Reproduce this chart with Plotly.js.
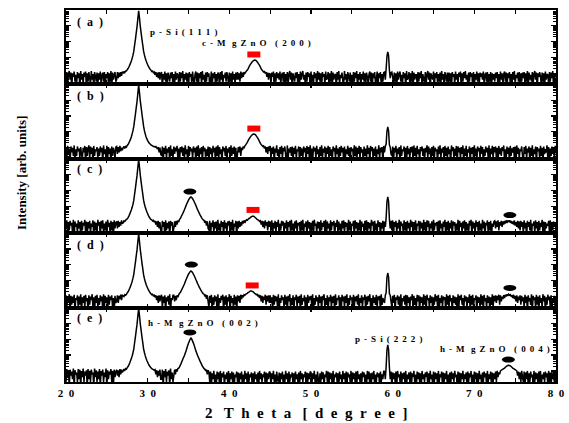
<!DOCTYPE html>
<html><head><meta charset="utf-8">
<script src="https://cdn.plot.ly/plotly-3.0.1.min.js"></script>
<style>html,body{margin:0;padding:0;background:#fff}#chart{width:569px;height:423px}</style>
</head><body><div id="chart"></div>
<script>
// sampling of the scans: 20.0, 20.1, ... 80.0 (degrees 2-theta)
const xStart = 20.0;
const xStep = 0.1;

// panel (a)
const intensityA = [
 3,12,2,9,14,4,11,1,10,6, 13,3,8,2,12,5,10,1,14,4, 9,2,11,6,13,1,10,3,12,5, 2,14,4,9,1,12,7,3,11,2, 10,4,13,2,8,11,3,12,1,9, 5,12,2,10,3,14,1,11,4,8, 12,3,
 4,12,5,11,6,12,7,13, 10,13,11,14,14,17,20,25,33,44, 60,88,140,240,600,1400,3600,9000,30000, 90000, 30000,9000,3600,1400,600,250,145,92,64, 46,35,27,22,18,16,13,14,11,12, 8,12,6,11,5,12,4,10,
 12,1,9,4,13,3,10,2,11,6, 3,11,5,12,1,9,2,13,4,10, 8,2,12,3,11,5,14,1,9,4, 11,3,10,1,12,6,9,2,13,4, 2,9,13,3,11,1,10,5,12,2, 14,4,8,2,11,3,12,6,10,1, 4,13,1,10,5,12,2,9,3,11, 9,1,12,4,14,2,8,5,11,3, 12,6,2,11,3,10,1,13,4,9, 2,11,4,
 12,4,10,3,13,5,11,6, 12,10,12,14, 16,19,25,32,38,45,53,60,66, 69, 67,62,54,46,38,32,25,19,16, 14,12,13,10,12,6,11,4,10,
 9,2,11,6,13,1,10,3,12,5, 10,4,13,2,8,11,3,12,1,9, 3,12,2,9,14,4,11,1,10,6, 3,11,5,12,1,9,2,13,4,10, 14,4,8,2,11,3,12,6,10,1, 13,3,8,2,12,5,10,1,14,4, 11,3,10,1,12,6,9,2,13,4, 5,12,2,10,3,14,1,11,4,8, 9,1,12,4,14,2,8,5,11,3, 2,14,4,9,1,12,7,3,11,2, 8,2,12,3,11,5,14,1,9,4, 12,1,9,4,13,3,10,2,11,6, 2,9,13,3,11,1,10,5,12,2, 4,13,1,10,5,12,2,9,3,11,
 12,4,18,120,224,130,16,5,11,
 12,6,2,11,3,10,1,13,4,9, 13,3,8,2,12,5,10,1,14,4, 5,12,2,10,3,14,1,11,4,8, 8,2,12,3,11,5,14,1,9,4, 3,12,2,9,14,4,11,1,10,6, 4,13,1,10,5,12,2,9,3,11, 2,14,4,9,1,12,7,3,11,2, 11,3,10,1,12,6,9,2,13,4, 9,2,11,6,13,1,10,3,12,5, 14,4,8,2,11,3,12,6,10,1, 12,1,9,4,13,3,10,2,11,6, 10,4,13,2,8,11,3,12,1,9, 3,12,1,10,4,9,
 3,11,5,12,1,9,2,13,4,10, 2,9,13,3,11,1,10,5,12,2, 9,1,12,4,14,2,8,5,11,3, 12,2,10,3,11,
 5,12,2,10,3,14,1,11,4,8, 3,12,2,9,14,4,11,1,10,6, 12,6,2,11,3,10,1,13,4,9, 8,2,12,3,11,5,14,1,9,4, 3
];
// panel (b)
const intensityB = [
 11,2,13,4,9,1,12,5,10,3, 14,1,8,3,12,6,9,2,11,4, 2,10,5,13,1,11,3,9,14,2, 12,4,10,1,13,3,8,6,11,2, 9,3,12,5,10,1,14,4,8,2, 13,2,11,4,9,1,12,3,10,6, 2,11,
 12,4,11,5,13,6,10,7, 10,12,9,13,11,14,16,20,26,35, 48,75,120,220,550,1300,3400,8600,28000, 90000, 29000,8800,3500,1350,560,230,120,75,50, 36,28,23,19,17,15,14,13,12,12, 11,12,10,8,11,5,10,4,
 3,12,1,10,4,13,2,9,5,11, 1,14,3,8,2,12,4,10,6,13, 2,9,1,11,5,12,3,10,2,14, 4,8,1,13,3,11,6,9,2,12, 5,10,1,12,3,14,2,9,4,11, 1,13,6,10,2,8,3,12,1,11, 4,9,2,13,5,10,1,12,3,14, 2,11,4,8,1,12,6,10,3,13, 1,9,5,11,2,14,3,10,4,12, 2,10,1,
 4,11,5,12,3,10,7, 11,10,13,15, 18,22,28,35,42,50,58,66,72, 74, 72,65,56,47,39,31,24,19,16, 14,12,13,9,12,5,11,4,12,6,
 13,2,10,4,12,1,9,5,14,3, 8,1,11,4,13,2,10,6,12,3, 1,14,2,9,5,11,3,12,1,10, 4,13,2,8,6,12,1,11,3,9, 2,12,5,10,1,13,4,11,2,14, 3,9,1,12,6,10,2,13,4,8, 1,11,3,14,2,9,5,12,1,10, 4,13,2,11,3,8,1,12,6,10, 2,14,4,9,1,11,3,13,5,10, 1,12,2,8,4,13,3,10,1,11, 6,9,2,14,3,12,1,10,4,13, 2,11,5,8,1,12,3,9,2,14, 4,10,1,13,6,11,2,9,3,12, 1,8,4,14,2,10,5,11,1,13,
 5,12,17,110,204,115,15,11,4,
 3,12,1,10,5,13,2,9,4,11, 1,14,3,8,6,12,2,10,1,13, 4,9,2,11,5,12,1,14,3,10, 2,13,4,8,1,11,6,12,3,9, 1,10,5,14,2,12,4,9,1,11, 3,13,2,10,6,8,1,12,4,14, 2,9,5,11,1,13,3,10,2,12, 4,8,1,14,6,11,2,9,3,13, 1,12,5,10,2,11,4,14,1,9, 3,13,2,8,5,12,1,10,4,11, 2,14,3,9,1,12,6,10,2,13, 4,11,1,8,3,12,5,10,2,14, 1,9,4,13,2,11,
 5,12,2,10,1,13,4,9,3,11, 6,14,1,8,2,12,4,10,1,13, 3,9,5,11,2,12,1,14,4,10, 2,8,6,12,3,
 1,11,4,13,2,9,5,12,1,10, 3,14,2,8,4,12,1,11,6,9, 2,13,3,10,1,12,4,8,5,14, 2,11,1,9,3,12,4,10,2,13, 5
];
// panel (c)
const intensityC = [
 4,13,1,10,3,12,6,9,2,14, 1,11,5,8,2,13,4,10,1,12, 3,9,6,14,2,11,1,10,4,12, 2,8,5,13,1,11,3,9,2,14, 6,10,1,12,4,13,2,8,3,11, 1,14,5,9,2,12,3,10,1,13, 4,9,
 11,4,12,5,10,6,13,8, 9,12,11,13,15,16,19,24,32,43, 58,86,135,235,590,1400,3600,8900,30000, 90000, 30000,8900,3500,1380,590,245,140,90,62, 45,34,26,21,17,15,14,12,13,10, 12,7,11,5,12,4,10,3,
 2,12,5,10,1,13,3,9,4,11,1,12,6,10,2,
 4,11,5,12,7,13,10,15,17,22,28,35,46,60,82,110,148,190,245,300,355, 390, 360,305,250,195,150,115,85,64,49,38,30,24,19,16,14,13,9,12,6,11,4,
 3,12,1,9,5,13,2,10,4,11, 1,14,3,8,2,12,5,10,1,13, 4,9,2,11,6,12,1,10,3,14, 2,8,5,12,1,
 11,4,12,5,10,6,12,8,13,9, 12,14,13,15,17,18,20,22,23, 24, 23,21,19,17,15,14,13,11,12, 7,12,5,11,4,13,6,10,3,12,5,
 11,3,13,1,9,4,12,2,10,5, 14,1,8,3,12,6,11,2,9,4, 13,1,10,5,12,2,14,3,8,1, 11,4,13,2,9,6,10,1,12,3, 14,2,8,5,11,1,13,4,10,2, 9,3,12,1,14,6,8,2,11,4, 10,1,13,3,9,5,12,2,14,1, 11,4,8,2,13,3,10,6,12,1, 9,5,14,2,11,3,8,1,12,4, 13,2,10,5,9,1,14,3,11,2, 8,6,12,1,13,4,10,2,9,3, 14,1,11,5,8,2,12,3,13,1, 10,4,9,2,14,6,11,1,12,3, 8,2,13,5,10,1,9,4,12,2,
 11,5,18,190,390,200,16,4,12,
 3,13,1,10,5,12,2,9,4,14, 1,11,6,8,2,13,3,10,1,12, 4,9,2,14,5,11,1,10,3,13, 2,8,6,12,1,11,4,9,2,14, 3,10,1,13,5,12,2,8,4,11, 1,14,3,9,6,10,2,12,1,13, 4,8,2,11,5,14,1,10,3,12, 2,9,4,13,1,11,6,10,2,8, 3,14,1,12,5,9,2,11,4,13, 1,10,3,8,2,12,6,14,1,11, 4,9,2,13,5,10,1,12,3,8, 2,14,4,11,1,9,6,13,2,10, 3,12,1,8,5,11,
 12,4,11,5,13,3,10,6,12,5, 11,7,12,8,13,9,12,11,13,9, 12,8,11,7,13,6,10,5,12,4, 11,3,12,5,10,
 2,13,4,9,1,12,5,10,3,14, 1,8,6,11,2,13,4,10,1,12, 3,9,5,14,2,11,1,10,4,8, 6,12,2,13,1,9,3,11,5,10, 2
];
// panel (d)
const intensityD = [
 12,2,9,5,14,1,11,3,10,4, 13,1,8,6,12,2,10,3,14,1, 9,4,11,2,13,5,8,1,12,3, 10,6,14,2,9,1,11,4,13,2, 8,3,12,5,10,1,14,2,11,4, 9,1,13,3,10,6,12,2,8,1, 11,4,
 5,12,4,11,7,13,6,12, 11,10,13,12,14,17,20,25,33,45, 62,90,145,245,610,1450,3700,9100,30000, 90000, 29000,8800,3500,1350,580,240,138,88,60, 44,33,26,21,17,15,13,14,11,12, 9,12,6,11,4,12,5,10,
 13,2,10,4,12,1,9,5,11,3,14,1,8,6,12,
 12,5,11,6,12,9,13,16,18,23,29,37,48,62,86,115,155,200,258,310,370, 410, 375,320,262,205,160,120,92,68,53,40,33,26,21,18,15,14,11,13,7,12,5,
 2,11,4,13,1,9,3,12,5,10, 1,14,2,8,4,11,6,13,1,10, 3,12,2,9,5,14,1,11,4,8, 2,13,3,10,1,
 12,5,11,4,13,7,12,9, 13,12,14,15,16,18,19,21,22, 22, 21,20,18,16,15,13,14,11,12, 8,12,5,11,4,10,6,13,3,11,5,12,4,
 12,4,9,1,13,3,11,5,10,2, 14,1,8,4,12,6,9,2,13,3, 10,1,11,5,14,2,8,3,12,1, 9,6,13,2,10,4,11,1,14,3, 8,5,12,2,9,1,13,4,10,6, 11,2,14,1,8,3,12,5,9,2, 13,4,10,1,11,6,14,2,8,3, 12,1,9,5,13,2,10,4,11,1, 14,3,8,6,12,2,9,1,13,5, 10,2,11,4,14,1,8,3,12,6, 9,1,13,2,10,5,11,3,14,1, 8,4,12,2,9,6,13,1,10,3, 11,5,14,2,8,1,12,4,9,3, 13,2,10,6,11,1,14,3,8,5,
 4,12,17,160,305,170,15,12,5,
 2,11,4,13,1,9,6,12,3,10, 1,14,2,8,5,11,3,13,1,12, 4,9,2,10,6,14,1,11,3,8, 2,13,5,12,1,10,4,9,2,14, 3,11,1,13,6,8,2,12,4,10, 1,9,3,14,5,11,2,13,1,8, 4,12,2,10,6,9,1,14,3,11, 2,13,5,8,1,12,4,10,3,9, 1,14,2,11,6,13,3,8,1,12, 5,10,2,9,4,14,1,11,3,13, 2,8,6,12,1,10,4,9,2,14, 3,11,1,13,5,8,2,12,4,10, 1,9,3,14,2,11,
 5,12,4,11,6,13,3,12,5,10, 7,12,8,13,10,14,11,14,12,13, 10,12,8,13,7,11,5,12,4,10, 6,12,3,11,5,
 9,2,13,4,10,1,12,5,8,3, 14,1,11,6,9,2,13,3,10,1, 12,4,8,2,14,5,11,1,9,3, 13,6,10,2,12,1,8,4,11,2, 10
];
// panel (e)
const intensityE = [
 2,13,4,10,1,12,5,9,3,14, 1,11,6,8,2,13,3,12,1,10, 4,14,2,9,5,11,1,13,3,10, 2,12,6,8,1,14,4,11,2,9, 3,13,1,10,5,12,2,8,4,14, 1,11,3,9,6,13,2,10,1,12, 4,9,
 12,5,11,4,13,6,12,8, 10,13,11,14,13,16,19,24,32,44, 60,88,140,240,600,1420,3600,9000,30000, 90000, 30000,9100,3650,1420,610,250,145,92,63, 46,35,27,22,18,16,14,13,12,11, 12,6,11,4,10,5,12,3,
 3,12,1,10,4,13,2,9,5,11,1,14,3,8,2,
 5,12,6,13,9,14,15,18,23,30,41,55,72,95,130,180,270,400,560,750,1000, 1200, 1010,760,570,410,275,185,135,98,75,57,43,33,26,20,17,14,13,10,12,6,11,
 8,2,9,1,7,3,10,2,6,1, 9,3,8,1,10,2,7,4,9,1, 6,3,8,2,10,1,7,3,9,2, 8,1,6,4,9,
 2,8,1,7,3,9,1,6,2,10, 3,7,1,9,2,6,4,8,1,7, 1,9,3,6,2,8,1,10,3,7, 2,6,4,9,1,8,2,7,3,9,
 8,1,7,3,10,2,6,1,9,3, 2,8,1,7,3,9,1,6,2,10, 3,7,1,9,2,6,4,8,1,7, 1,9,3,6,2,8,1,10,3,7, 2,6,4,9,1,8,2,7,3,9, 8,1,7,3,10,2,6,1,9,3, 1,7,2,9,3,8,1,6,4,10, 2,9,1,8,3,7,1,10,2,6, 4,8,2,7,1,9,3,6,1,10, 3,7,2,9,1,8,4,6,2,10, 1,8,3,7,2,9,1,10,3,6, 2,7,1,9,4,8,2,6,1,10, 3,9,1,7,2,8,3,10,1,6, 2,8,4,7,1,9,2,6,3,10,
 9,3,18,210,440,225,17,3,9,
 1,8,3,7,2,9,1,10,4,6, 2,9,1,7,3,8,2,10,1,6, 3,8,2,9,1,7,4,10,2,6, 1,9,3,8,2,7,1,10,3,6, 2,8,4,9,1,7,2,10,3,6, 1,9,2,8,3,7,1,10,2,6, 4,9,1,8,2,7,3,10,1,6, 2,8,1,9,3,7,2,10,4,6, 1,9,2,8,1,7,3,10,2,6, 3,8,1,9,2,7,4,10,1,6, 2,9,3,8,1,7,2,10,3,6, 1,8,2,9,4,7,1,10,2,6, 3,9,1,8,2,7,
 3,9,2,10,4,8,6, 10,11,12,13,14,15,17,19,21,22, 23, 22,21,19,17,15,14,13,12,11,10, 5,9,3,8,2,10,4,
 2,9,1,8,3,10,1,7,2,9, 4,6,1,10,2,8,3,7,1,9, 2,10,1,6,3,8,2,9,4,7, 1,10,2,8,1,9,3,6,2,10, 1
];

const panelNames = ['(  a  )', '(  b  )', '(  c  )', '(  d  )', '(  e  )'];
const panelData = [intensityA, intensityB, intensityC, intensityD, intensityE];

const xTickVals = [20, 25, 30, 35, 40, 45, 50, 55, 60, 65, 70, 75, 80];
const xTickText = ['2  0', '', '3  0', '', '4  0', '', '5  0', '', '6  0', '', '7  0', '', '8  0'];

// peak markers: cubic MgZnO (200) = red rectangles, hexagonal MgZnO = black ellipses
const cubicPanel = [0, 1, 2, 3];
const cubicX = [43.0, 43.0, 42.9, 42.8];
const cubicY = [155, 162, 59, 50];
const hexPanel = [2, 2, 3, 3, 4, 4];
const hexX = [35.17, 74.35, 35.35, 74.35, 35.17, 74.17];
const hexY = [850, 28, 1050, 35, 2700, 52];

const peakLabelText = ['p - S i ( 1 1 1 )', 'c - M  g Z n O   ( 2 0 0 )', 'h - M  g Z n O   ( 0 0 2 )', 'p - S i ( 2 2 2 )', 'h - M  g Z n O   ( 0 0 4 )'];
const xTitle = '2   T  h  e  t  a   [  d  e  g  r  e  e  ]';
const yTitle = 'Intensity [arb. units]';

const logMin = 0.3, logMax = 5.0;
const nb = s => s.replace(/ /g, '\u00a0');
const gap = s => s.replace(/   /g, '\u00a0\u00a0\u00a0\u2009').replace(/  /g, '\u00a0\u00a0\u2009').replace(/ /g, '\u00a0\u2009');

const N = panelData.length;
const traces = [];
const layout = {
  width: 569, height: 423,
  margin: {l: 66, r: 13, t: 10, b: 41},
  paper_bgcolor: 'white', plot_bgcolor: 'white',
  showlegend: false,
  font: {family: 'Liberation Serif', color: 'black'},
  annotations: [], shapes: []
};
const sfx = k => (k === 0 ? '' : String(k + 1));

for (let k = 0; k < N; k++) {
  traces.push({
    type: 'scatter', mode: 'lines',
    x0: xStart, dx: xStep, y: panelData[k],
    xaxis: 'x' + sfx(k), yaxis: 'y' + sfx(k),
    line: {color: 'black', width: 1.5, simplify: false},
    hoverinfo: 'skip'
  });
  const top = 1 - k / N, bot = 1 - (k + 1) / N;
  layout['xaxis' + sfx(k)] = {
    range: [20, 80], anchor: 'y' + sfx(k),
    showline: true, linewidth: 2, linecolor: 'black', mirror: 'ticks',
    ticks: 'inside', ticklen: 4, tickwidth: 1.2, tickcolor: 'black',
    tickmode: 'array', tickvals: xTickVals, ticktext: xTickText.map(nb),
    showticklabels: k === N - 1,
    tickfont: {family: 'Liberation Serif', size: 11, color: 'black', weight: 'bold'},
    showgrid: false, zeroline: false
  };
  if (k > 0) layout['xaxis' + sfx(k)].matches = 'x';
  layout['yaxis' + sfx(k)] = {
    type: 'log', range: [logMin, logMax], domain: [bot, top], anchor: 'x' + sfx(k),
    showline: true, linewidth: 2, linecolor: 'black', mirror: 'ticks',
    ticks: 'inside', ticklen: 5, tickwidth: 1.2, tickcolor: 'black', dtick: 1,
    showticklabels: false, showgrid: false, zeroline: false,
    minor: {ticks: 'inside', ticklen: 3, tickwidth: 1, tickcolor: 'black', dtick: 'D1', showgrid: false}
  };
}

const px = p => (p - 66) / 490;
const py = p => (382 - p) / 372;
const labFont = {family: 'Liberation Serif', size: 12, color: 'black'};
const pkFont = {family: 'Liberation Serif', size: 9, color: 'black'};
const labY = [22, 96, 169, 245, 318];
panelNames.forEach((t, k) => {
  layout.annotations.push({xref: 'paper', yref: 'paper', x: px(75), y: py(labY[k]), xanchor: 'left', yanchor: 'middle',
    text: '<b>' + nb(t) + '</b>', showarrow: false, font: labFont});
});
const peakLabelPos = [[148, 32], [200, 43], [146, 323], [353, 339], [438, 349]];
peakLabelText.forEach((t, i) => {
  layout.annotations.push({xref: 'paper', yref: 'paper', x: px(peakLabelPos[i][0]), y: py(peakLabelPos[i][1]), xanchor: 'left', yanchor: 'middle',
    text: '<b>' + gap(t) + '</b>', showarrow: false, font: pkFont});
});
layout.annotations.push({xref: 'paper', yref: 'paper', x: px(306), y: py(413), xanchor: 'center', yanchor: 'middle',
  text: '<b>' + nb(xTitle) + '</b>', showarrow: false, font: {family: 'Liberation Serif', size: 15, color: 'black'}});
layout.annotations.push({xref: 'paper', yref: 'paper', x: px(21), y: py(173), xanchor: 'center', yanchor: 'middle',
  text: '<b>' + yTitle + '</b>', textangle: -90, showarrow: false,
  font: {family: 'Liberation Serif', size: 13, color: 'black'}});

const frac = v => (Math.log10(v) - logMin) / (logMax - logMin);
cubicPanel.forEach((k, i) => {
  layout.shapes.push({type: 'rect', xref: 'x' + sfx(k), yref: 'y' + sfx(k) + ' domain',
    xsizemode: 'pixel', xanchor: cubicX[i], x0: -6.5, x1: 6.5,
    ysizemode: 'pixel', yanchor: frac(cubicY[i]), y0: -3, y1: 3,
    fillcolor: '#ff0000', line: {width: 0}});
});
hexPanel.forEach((k, i) => {
  layout.shapes.push({type: 'circle', xref: 'x' + sfx(k), yref: 'y' + sfx(k) + ' domain',
    xsizemode: 'pixel', xanchor: hexX[i], x0: -6.5, x1: 6.5,
    ysizemode: 'pixel', yanchor: frac(hexY[i]), y0: -3, y1: 3,
    fillcolor: 'black', line: {width: 0}});
});

Plotly.newPlot('chart', traces, layout, {displayModeBar: false, staticPlot: true});
</script>
</body></html>
